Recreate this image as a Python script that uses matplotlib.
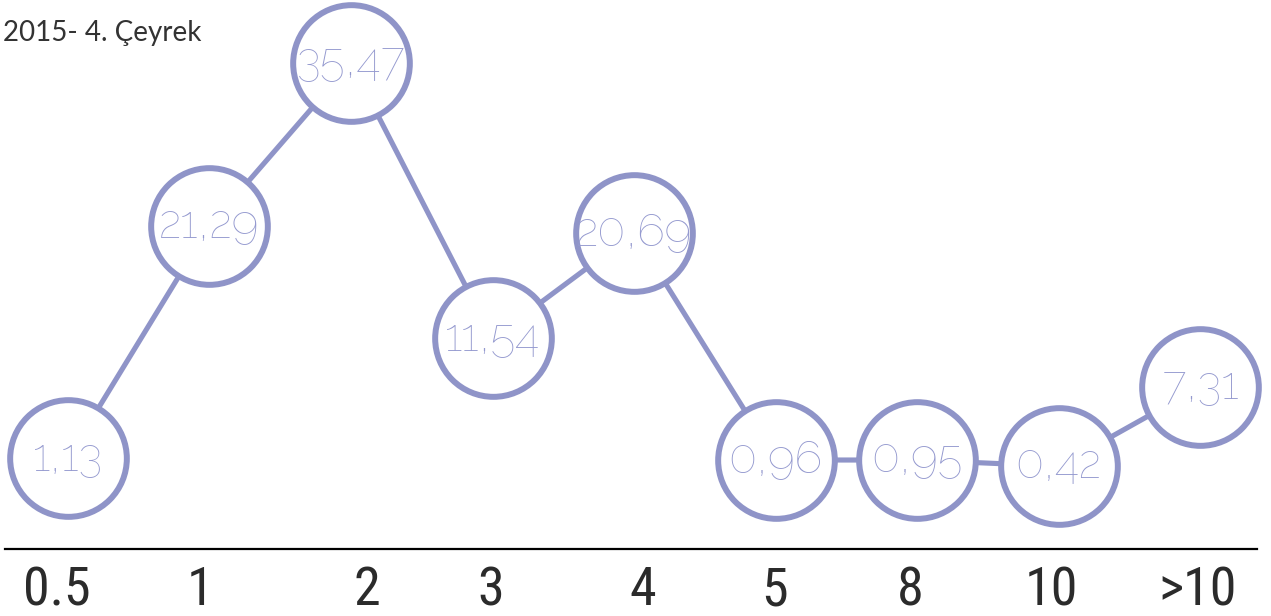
import matplotlib
matplotlib.use("Agg")
import matplotlib.pyplot as plt
from matplotlib import font_manager

# ---- data ----
categories = ["0.5", "1", "2", "3", "4", "5", "8", "10", ">10"]
values = [1.13, 21.29, 35.47, 11.54, 20.69, 0.96, 0.95, 0.42, 7.31]
value_labels = ["1,13", "21,29", "35,47", "11,54", "20,69", "0,96", "0,95", "0,42", "7,31"]
title = "2015- 4. Çeyrek"

# small horizontal nudges of the category labels (px)
label_nudge = [-11, -9, 16, -2, 9, -1, -7, -7, -3]

fonts = {}
for f in font_manager.fontManager.ttflist:
    fonts.setdefault(f.name, set()).add(f.weight)


def pick(cands, default="DejaVu Sans"):
    for c in cands:
        if c in fonts:
            return c
    return default


narrow = pick(["Roboto Condensed", "Liberation Sans Narrow", "Noto Sans"])
thin = pick(["Raleway", "Roboto", "Lato"])
title_font = pick(["Lato", "Open Sans"])

col = "#8f94c8"
txt_col = "#9499cf"
dark = "#2b2b2b"

W, H = 1271, 616
fig = plt.figure(figsize=(W / 100, H / 100), dpi=100)
ax = fig.add_axes([0, 0, 1, 1])
ax.set_xlim(-0.48, 8.5)
ax.set_ylim(-12.61, 40.96)
ax.axis("off")

xs = list(range(len(categories)))
ax.plot(xs, values, color=col, lw=3.7, zorder=1, solid_capstyle="butt")
ax.plot(xs, values, "o", ms=84, mfc="white", mec=col, mew=4.3, zorder=2)

for x, v, lab in zip(xs, values, value_labels):
    ax.text(x, v, lab, ha="center", va="center", fontsize=33, color=txt_col,
            family=thin, fontweight=300, zorder=3)

ax.axhline(-6.78, xmin=0.004, xmax=0.989, color="black", lw=1.6)

for x, lab, dx in zip(xs, categories, label_nudge):
    ax.text(x + dx / 141.5, -10.4, lab, ha="center", va="center", fontsize=39,
            color=dark, family=narrow, fontstretch="condensed")

fig.text(0.002, 0.946, title, ha="left", va="center", fontsize=20, color="#333333",
         family=title_font)

fig.savefig("out.png", dpi=100)
